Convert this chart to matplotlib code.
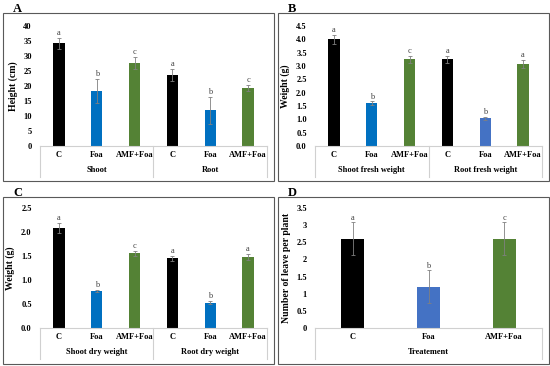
import matplotlib.pyplot as plt
from matplotlib.patches import Rectangle
import numpy as np

plt.rcParams['font.family'] = ['Liberation Serif', 'DejaVu Serif']

# Datos
treatments = ['C', 'Foa', 'AMF+Foa']

height_groups = ['Shoot', 'Root']
height_vals = [34.3, 18.5, 27.7, 23.8, 12.0, 19.2]
height_err = [1.8, 4.0, 2.0, 2.0, 4.5, 1.0]
height_letters = ['a', 'b', 'c', 'a', 'b', 'c']

fresh_groups = ['Shoot fresh weight', 'Root fresh weight']
fresh_vals = [4.0, 1.6, 3.25, 3.25, 1.04, 3.07]
fresh_err = [0.17, 0.07, 0.12, 0.12, 0.05, 0.15]
fresh_letters = ['a', 'b', 'c', 'a', 'b', 'a']

dry_groups = ['Shoot dry weight', 'Root dry weight']
dry_vals = [2.08, 0.77, 1.56, 1.45, 0.53, 1.48]
dry_err = [0.10, 0.03, 0.05, 0.05, 0.03, 0.06]
dry_letters = ['a', 'b', 'c', 'a', 'b', 'a']

leaf_group = ['Treatement']
leaf_vals = [2.6, 1.2, 2.6]
leaf_err = [0.48, 0.48, 0.48]
leaf_letters = ['a', 'b', 'c']

black = '#000000'
blue = '#0070C0'
blue2 = '#4472C4'
green = '#548235'

W, H = 550, 366
fig = plt.figure(figsize=(W / 100, H / 100), dpi=100)


def px_axes(x0, x1, ytop, ybase):
    return fig.add_axes([x0 / W, 1 - ybase / H, (x1 - x0) / W, (ybase - ytop) / H])


def panel(ax, vals, errs, letters, colors, groups, ymax, step, ylabel, fmt, letter_off):
    n = len(vals)
    x = np.arange(n)
    ax.bar(x, vals, width=0.3, color=colors, zorder=2)
    ax.errorbar(x, vals, yerr=errs, fmt='none', ecolor='#808080',
                elinewidth=0.6, capsize=1.2, capthick=0.6, zorder=3)
    for xi, v, e, t in zip(x, vals, errs, letters):
        ax.text(xi, v + e + letter_off, t, ha='center', va='bottom',
                fontsize=6, color='#404040')
    ax.set_xlim(-0.5, n - 0.5)
    ax.set_ylim(0, ymax)
    ticks = np.arange(0, ymax + step / 2, step)
    ax.set_yticks(ticks)
    ax.set_yticklabels([fmt(t) for t in ticks], fontsize=6, fontweight='bold')
    ax.tick_params(axis='y', length=0, pad=6)
    ax.set_xticks([])
    for s in ['top', 'right', 'left']:
        ax.spines[s].set_visible(False)
    ax.spines['bottom'].set_color('#d0d0d0')
    ax.spines['bottom'].set_linewidth(0.8)
    ax.set_ylabel(ylabel, fontsize=7, fontweight='bold', labelpad=4)
    tr = ax.get_xaxis_transform()
    per = n // len(groups)
    for xi in x:
        ax.text(xi, -0.075, treatments[xi % per], transform=tr, ha='center',
                va='center', fontsize=6, fontweight='bold', clip_on=False)
    for gi, g in enumerate(groups):
        mid = gi * per + (per - 1) / 2
        ax.text(mid, -0.2, g, transform=tr, ha='center', va='center',
                fontsize=6, fontweight='bold', clip_on=False)
    for b in range(len(groups) + 1):
        xb = b * per - 0.5
        ax.plot([xb, xb], [0, -0.26], transform=tr, color='#d0d0d0',
                lw=0.8, clip_on=False)


def frame(x0, y0, x1, y1, label):
    fig.patches.append(Rectangle((x0 / W, 1 - y1 / H), (x1 - x0) / W, (y1 - y0) / H,
                                 transform=fig.transFigure, fill=False,
                                 edgecolor='#595959', lw=0.8))
    fig.text((x0 + 10) / W, 1 - (y0 - 4) / H, label, fontsize=9,
             fontweight='bold', ha='left', va='center')


frame(3, 13, 274, 181, 'A')
frame(278, 13, 549, 181, 'B')
frame(3, 197, 274, 364, 'C')
frame(278, 197, 549, 364, 'D')

axA = px_axes(40, 267, 26, 146)
panel(axA, height_vals, height_err, height_letters,
      [black, blue, green] * 2, height_groups, 40, 5, 'Height (cm)',
      lambda t: f'{t:g}', 0.3)

axB = px_axes(315, 542, 26, 146)
panel(axB, fresh_vals, fresh_err, fresh_letters,
      [black, blue, green, black, blue2, green], fresh_groups, 4.5, 0.5,
      'Weight (g)', lambda t: f'{t:.1f}', 0.03)

axC = px_axes(40, 267, 208, 328)
panel(axC, dry_vals, dry_err, dry_letters,
      [black, blue, green] * 2, dry_groups, 2.5, 0.5, 'Weight (g)',
      lambda t: f'{t:.1f}', 0.02)

axD = px_axes(315, 542, 208, 328)
panel(axD, leaf_vals, leaf_err, leaf_letters,
      [black, blue2, green], leaf_group, 3.5, 0.5,
      'Number of leave per plant', lambda t: f'{t:g}', 0.02)

fig.savefig('out.png', dpi=100)
